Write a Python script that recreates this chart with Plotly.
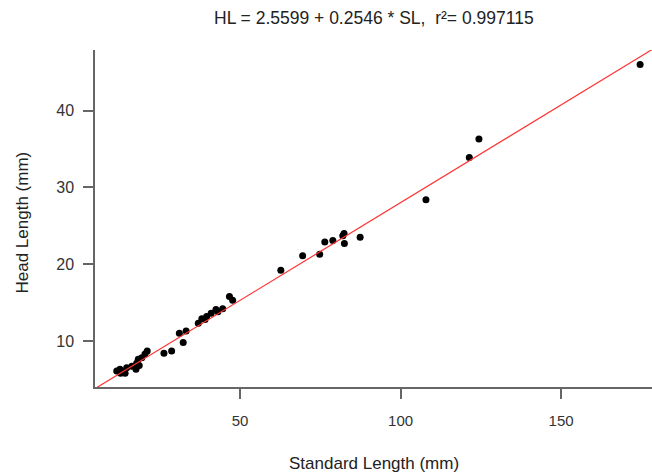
import plotly.graph_objects as go

# Data
standard_length = [11.6, 12.6, 12.8, 13.6, 14.2, 14.7, 16.3, 17.6, 17.8, 18.3, 18.6, 19.4,
                   20.4, 21.1, 26.3, 28.7, 31.1, 32.3, 33.2, 37.0, 38.1, 39.1, 39.6, 41.0,
                   42.5, 43.1, 44.6, 46.7, 47.7, 62.7, 69.5, 74.8, 76.4, 78.9, 82.0, 82.4,
                   82.5, 87.4, 107.9, 121.4, 124.4, 174.6]
head_length = [6.1, 6.3, 5.8, 6.0, 5.8, 6.5, 6.7, 6.3, 7.1, 7.6, 6.8, 7.8,
               8.3, 8.7, 8.4, 8.7, 11.0, 9.8, 11.3, 12.3, 12.9, 12.8, 13.2, 13.6,
               14.1, 13.8, 14.2, 15.8, 15.3, 19.2, 21.1, 21.3, 22.9, 23.1, 23.7, 24.0,
               22.7, 23.5, 28.4, 33.9, 36.3, 46.0]

intercept = 2.5599
slope = 0.2546
r_squared = 0.997115

x_ticks = [50, 100, 150]
y_ticks = [10, 20, 30, 40]
x_range = [4.83, 178.3]
y_range = [4.0, 47.9]

line_x = x_range
line_y = [intercept + slope * v for v in line_x]

FONT = "Liberation Sans, Arial, sans-serif"
AXIS_COLOR = "#666666"
TEXT_COLOR = "#333333"

fig = go.Figure()
fig.add_trace(go.Scatter(
    x=standard_length, y=head_length, mode="markers",
    marker=dict(color="black", size=7),
    showlegend=False, hoverinfo="x+y"))
fig.add_trace(go.Scatter(
    x=line_x, y=line_y, mode="lines",
    line=dict(color="#ff3333", width=1.2),
    showlegend=False, hoverinfo="skip"))

fig.update_layout(
    width=652, height=475,
    margin=dict(l=95, r=0, t=50, b=88),
    plot_bgcolor="white", paper_bgcolor="white",
    font=dict(family=FONT, color=TEXT_COLOR),
    xaxis=dict(range=x_range, tickvals=x_ticks, showgrid=False, zeroline=False,
               showline=True, linecolor=AXIS_COLOR, linewidth=1.5,
               ticks="outside", ticklen=10, tickcolor=AXIS_COLOR, tickwidth=1.5,
               tickfont=dict(size=15, color=TEXT_COLOR), ticklabelstandoff=9),
    yaxis=dict(range=y_range, tickvals=y_ticks, showgrid=False, zeroline=False,
               showline=True, linecolor=AXIS_COLOR, linewidth=1.5,
               ticks="outside", ticklen=10, tickcolor=AXIS_COLOR, tickwidth=1.5,
               tickfont=dict(size=16, color=TEXT_COLOR), ticklabelstandoff=6),
    annotations=[
        dict(text=f"HL = {intercept} + {slope} * SL,  r\u00b2= {r_squared}",
             xref="paper", yref="paper", x=0.5, y=1, yanchor="middle",
             yshift=32, showarrow=False, font=dict(size=17.5, color="#222222")),
        dict(text="Standard Length (mm)", xref="paper", yref="paper", x=0.5, y=0,
             yanchor="middle", yshift=-76, showarrow=False,
             font=dict(size=17, color="#222222")),
        dict(text="Head Length (mm)", xref="paper", yref="paper", x=0, y=0.5,
             xanchor="center", yanchor="middle", xshift=-73, yshift=-4,
             textangle=-90, showarrow=False, font=dict(size=17, color="#222222")),
    ],
)

fig.write_html("out.html")
